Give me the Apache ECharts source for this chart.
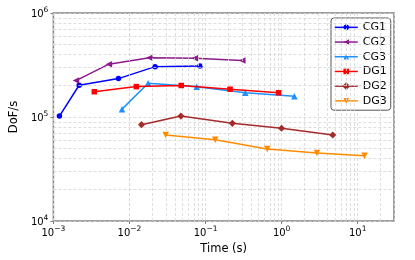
<!DOCTYPE html>
<html>
<head>
<meta charset="utf-8">
<script src="https://cdn.jsdelivr.net/npm/echarts@6/dist/echarts.min.js"></script>
<style>html,body{margin:0;padding:0;background:#fff}#c{width:415px;height:260px}</style>
</head>
<body>
<div id="c"></div>
<script>
var seriesNames = ['CG1', 'CG2', 'CG3', 'DG1', 'DG2', 'DG3'];
var cg1Time = [0.00120, 0.00218, 0.00716, 0.0217, 0.0845];
var cg1Dofs = [1.02e5, 2.02e5, 2.34e5, 3.05e5, 3.10e5];
var cg2Time = [0.00198, 0.00536, 0.0183, 0.0721, 0.304];
var cg2Dofs = [2.24e5, 3.22e5, 3.71e5, 3.68e5, 3.49e5];
var cg3Time = [0.00798, 0.0176, 0.0766, 0.333, 1.47];
var cg3Dofs = [1.19e5, 2.11e5, 1.95e5, 1.71e5, 1.58e5];
var dg1Time = [0.00345, 0.0123, 0.0479, 0.210, 0.912];
var dg1Dofs = [1.75e5, 1.96e5, 2.01e5, 1.85e5, 1.71e5];
var dg2Time = [0.0144, 0.0474, 0.225, 0.997, 4.70];
var dg2Dofs = [8.44e4, 1.02e5, 8.69e4, 7.78e4, 6.70e4];
var dg3Time = [0.0299, 0.134, 0.649, 2.91, 12.3];
var dg3Dofs = [6.70e4, 6.03e4, 4.93e4, 4.51e4, 4.24e4];
var xMin = 0.001, xMax = 30, yMin = 1e4, yMax = 1e6;
var xMinorGrid = [], yMinorGrid = [];
[0.001, 0.01, 0.1, 1, 10].forEach(function (d) {
  for (var k = 2; k <= 9; k++) { if (d * k < xMax) xMinorGrid.push(d * k); }
});
[1e4, 1e5].forEach(function (d) {
  for (var k = 2; k <= 9; k++) yMinorGrid.push(d * k);
});

function zip(a, b) { return a.map(function (v, i) { return [v, b[i]]; }); }
function powLabel(v) {
  var l = Math.log10(v), e = Math.round(l);
  if (Math.abs(l - e) > 1e-6) return '';
  return '{b|10}{s|' + (e < 0 ? '\u2212' + (-e) : e) + '}';
}
var richSup = {
  b: { fontSize: 10, fontFamily: 'DejaVu Sans', color: '#000', verticalAlign: 'bottom' },
  s: { fontSize: 7.5, fontFamily: 'DejaVu Sans', color: '#000', verticalAlign: 'bottom', padding: [0, 0, 5, 0] }
};
var styles = [
  { color: '#0000ff', symbol: 'circle', size: 5.5, rot: 0 },
  { color: '#8b1a8b', symbol: 'triangle', size: 6.5, rot: 90 },
  { color: '#1e90ff', symbol: 'triangle', size: 6.5, rot: 0 },
  { color: '#ff0000', symbol: 'rect', size: 5.5, rot: 0 },
  { color: '#a52a2a', symbol: 'rect', size: 5, rot: 45 },
  { color: '#ff8c00', symbol: 'triangle', size: 6.5, rot: 180 }
];
var datas = [zip(cg1Time, cg1Dofs), zip(cg2Time, cg2Dofs), zip(cg3Time, cg3Dofs),
             zip(dg1Time, dg1Dofs), zip(dg2Time, dg2Dofs), zip(dg3Time, dg3Dofs)];

var gridLineStyle = { color: '#d6d6d6', type: [3, 2], width: 0.8 };
var series = [{
  type: 'line', name: '_grid', data: [], silent: true, z: 0,
  markLine: {
    silent: true, symbol: 'none', label: { show: false }, animation: false,
    lineStyle: gridLineStyle,
    emphasis: { disabled: true },
    data: xMinorGrid.map(function (v) { return { xAxis: v }; })
      .concat(yMinorGrid.map(function (v) { return { yAxis: v }; }))
  }
}];
seriesNames.forEach(function (n, i) {
  var s = styles[i];
  series.push({
    type: 'line', name: n, data: datas[i], z: 3 + i,
    symbol: s.symbol, symbolSize: s.size, symbolRotate: s.rot,
    showAllSymbol: true,
    lineStyle: { color: s.color, width: 1.5, type: 'solid' },
    itemStyle: { color: s.color, borderWidth: 0 },
    animation: false
  });
});

var chart = echarts.init(document.getElementById('c'), null, { renderer: 'canvas' });
chart.setOption({
  animation: false,
  grid: { left: 50, right: 21, top: 13, bottom: 39, show: true, borderColor: '#808080', borderWidth: 1.5, backgroundColor: 'transparent' },
  legend: {
    data: seriesNames, orient: 'vertical', left: 331, top: 18,
    itemWidth: 23, itemHeight: 7, itemGap: 2,
    padding: [3, 4, 3, 3],
    itemStyle: { borderWidth: 0 },
    lineStyle: { width: 1.5, type: 'solid' },
    backgroundColor: 'rgba(255,255,255,0.85)', borderColor: '#555', borderWidth: 1, borderRadius: 3,
    textStyle: { fontFamily: 'DejaVu Sans', fontSize: 11, lineHeight: 12.7, color: '#000' }
  },
  xAxis: {
    type: 'log', logBase: 10, min: xMin, max: xMax, splitNumber: 4,
    name: 'Time (s)', nameLocation: 'middle', nameGap: 16,
    nameTextStyle: { fontFamily: 'DejaVu Sans', fontSize: 11.5, color: '#000' },
    axisLine: { show: false },
    axisTick: { show: true, inside: false, length: 3, lineStyle: { color: '#808080', width: 1 } },
    axisLabel: { formatter: powLabel, rich: richSup, margin: 4, showMaxLabel: false },
    splitLine: { show: true, lineStyle: gridLineStyle }
  },
  yAxis: {
    type: 'log', logBase: 10, min: yMin, max: yMax, splitNumber: 2,
    name: 'DoF/s', nameLocation: 'middle', nameGap: 26, nameRotate: 90,
    nameTextStyle: { fontFamily: 'DejaVu Sans', fontSize: 11.5, color: '#000' },
    axisLine: { show: false },
    axisTick: { show: true, inside: false, length: 3, lineStyle: { color: '#808080', width: 1 } },
    axisLabel: { formatter: powLabel, rich: richSup, margin: 5 },
    splitLine: { show: true, lineStyle: gridLineStyle }
  },
  series: series
});
</script>
</body>
</html>
